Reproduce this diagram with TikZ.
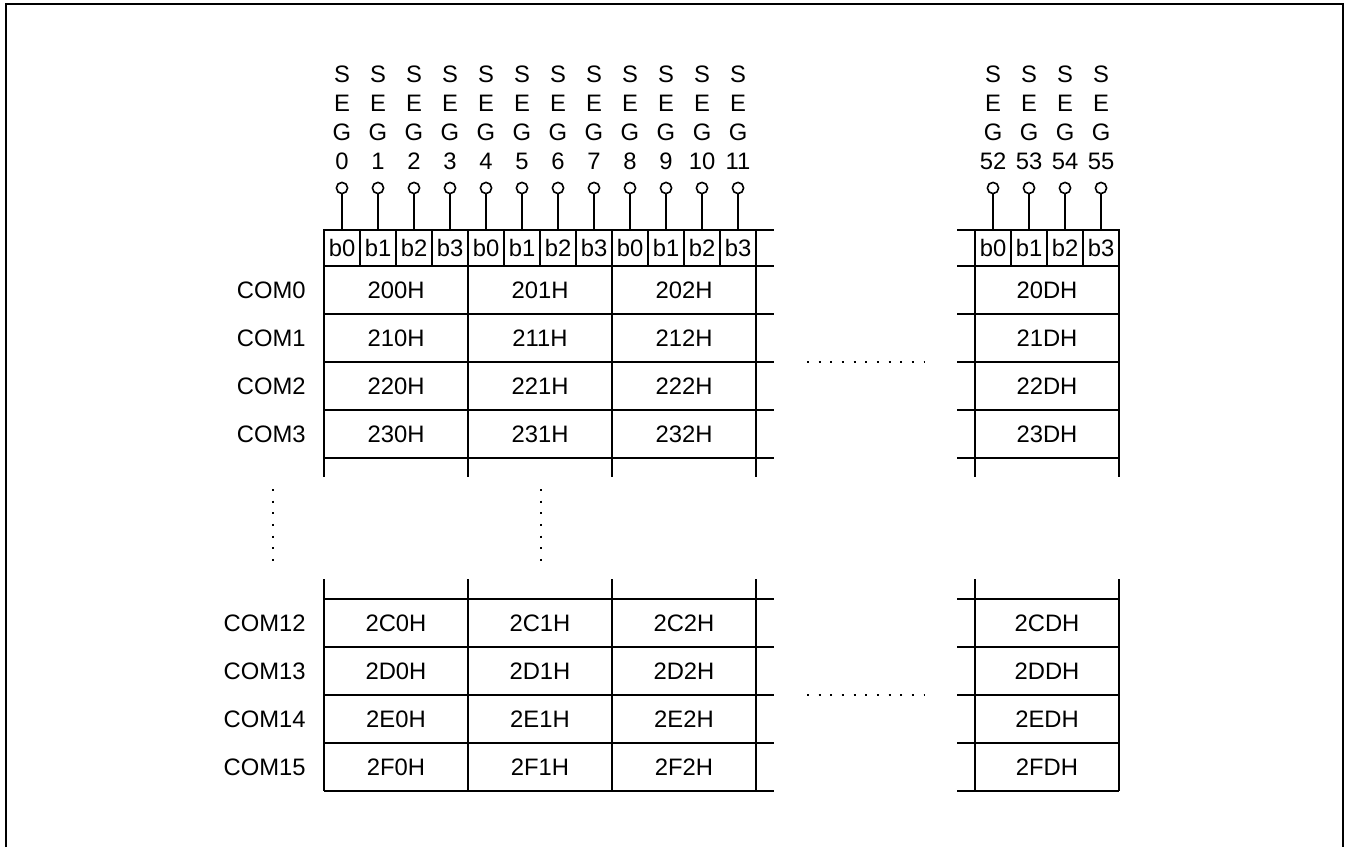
\documentclass[tikz,border=0pt]{standalone}
\usepackage{fontspec}
\setmainfont{Liberation Sans}
\usetikzlibrary{positioning}

\begin{document}
\begin{tikzpicture}[
  x=0.5pt, y=-0.5pt,
  txt/.style={font=\fontsize{11.9}{14.5}\selectfont, inner sep=0pt},
  lbl/.style={txt, text height=8.5pt, text depth=0pt},
  bitbox/.style={lbl, draw, line width=0.9pt, minimum width=18pt, minimum height=18pt},
  pin/.style={circle, draw, line width=0.8pt, inner sep=0pt, minimum size=5.6pt},
  seg/.style={txt, align=center},
  grid/.style={line width=0.9pt},
  dots/.style={line width=1pt, dash pattern=on 1pt off 4.83pt}
]

\useasboundingbox (0,0) rectangle (1350,847);
\draw[line width=1pt] (6,847) -- (6,4) -- (1343,4) -- (1343,847);

% segment pins, left group
\foreach \i in {0,...,11} {
  \pgfmathtruncatemacro{\b}{mod(\i,4)}
  \node[bitbox] (bL\i) at ({342+36*\i},248) {b\b};
  \node[pin] (pL\i) at ({342+36*\i},188) {};
  \node[seg] (sL\i) at ({342+36*\i},118) {S\\E\\G\\\i};
  \draw[grid] (pL\i) -- (bL\i);
}

% segment pins, right group
\foreach \i/\n in {0/52,1/53,2/54,3/55} {
  \node[bitbox] (bR\i) at ({993+36*\i},248) {b\i};
  \node[pin] (pR\i) at ({993+36*\i},188) {};
  \node[seg] (sR\i) at ({993+36*\i},118) {S\\E\\G\\\n};
  \draw[grid] (pR\i) -- (bR\i);
}

% upper table
\foreach \y in {230,266,314,362,410,458} {
  \draw[grid] (324,\y) -- (774,\y);
  \draw[grid] (957,\y) -- (1119,\y);
}
\foreach \x in {324,468,612,756,975,1119}
  \draw[grid] (\x,266) -- (\x,477);

% lower table
\foreach \y in {599,647,695,743,791} {
  \draw[grid] (324,\y) -- (774,\y);
  \draw[grid] (957,\y) -- (1119,\y);
}
\foreach \x in {324,468,612,756,975,1119}
  \draw[grid] (\x,579) -- (\x,791);

% addresses
\foreach \rw [count=\k from 0] in {0,1,2,3} {
  \node[lbl, anchor=east] (com\rw) at (306,{290+48*\k}) {COM\rw};
  \foreach \c [count=\j from 0] in {0,1,2}
    \node[lbl] (a\rw\c) at ({396+144*\j},{290+48*\k}) {2\rw\c H};
  \node[lbl] (a\rw D) at (1047,{290+48*\k}) {2\rw DH};
}
\foreach \rw/\m [count=\k from 0] in {C/12,D/13,E/14,F/15} {
  \node[lbl, anchor=east] (com\m) at (306,{623+48*\k}) {COM\m};
  \foreach \c [count=\j from 0] in {0,1,2}
    \node[lbl] (a\rw\c) at ({396+144*\j},{623+48*\k}) {2\rw\c H};
  \node[lbl] (a\rw D) at (1047,{623+48*\k}) {2\rw DH};
}

% omitted rows and columns
\draw[dots] (807,362) -- (925,362);
\draw[dots] (807,695) -- (925,695);
\draw[dots] (273,489) -- (273,561);
\draw[dots] (541,489) -- (541,561);

\end{tikzpicture}
\end{document}
